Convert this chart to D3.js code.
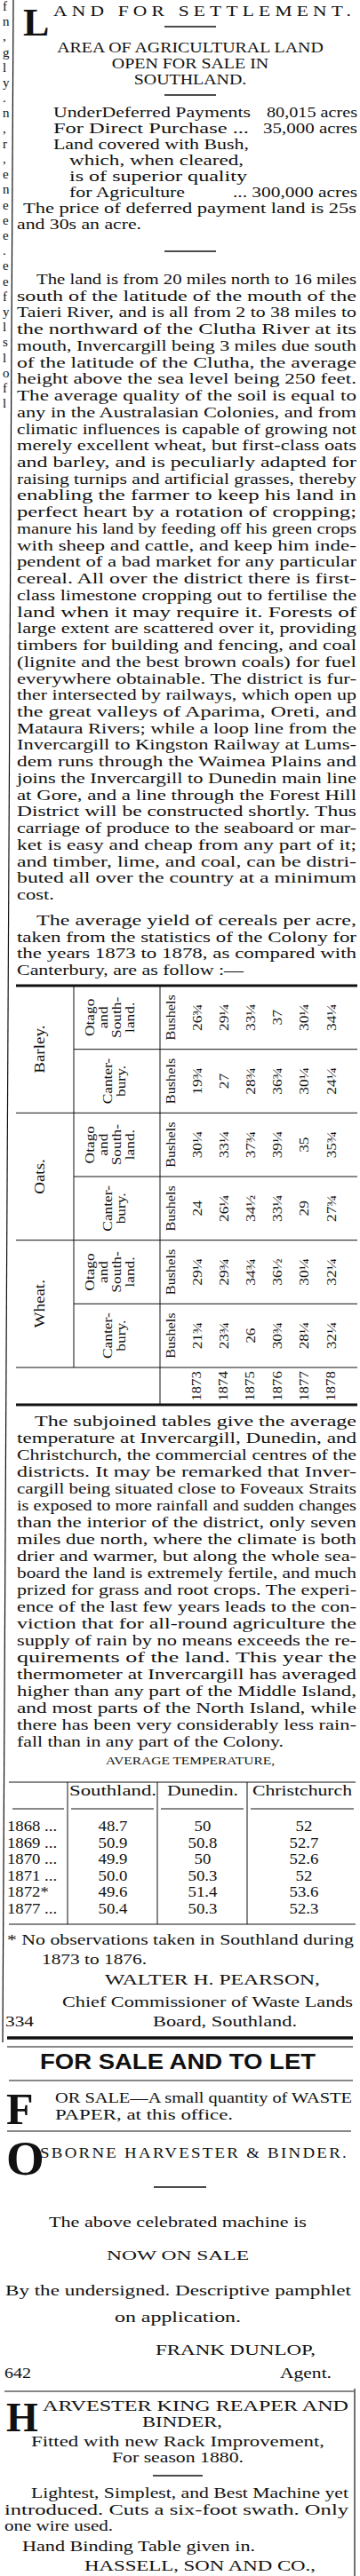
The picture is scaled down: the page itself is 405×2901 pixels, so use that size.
<!DOCTYPE html>
<html><head><meta charset="utf-8">
<script src="https://cdn.jsdelivr.net/npm/d3@7"></script>
<style>body{margin:0;background:#fff}svg{display:block}text{font-family:"Liberation Serif","DejaVu Serif",serif;fill:#111}</style>
</head><body>
<script>
// ---------- data ----------
const yieldYears = ["1873","1874","1875","1876","1877","1878"];
const crops = ["Barley.","Oats.","Wheat."];
const barleyOtago = ["26¾","29¼","33¼","37","30¼","34¼"];
const barleyCant  = ["19¾","27","28¾","36¾","30¼","24¼"];
const oatsOtago   = ["30¼","33¼","37¾","39¼","35","35¾"];
const oatsCant    = ["24","26¼","34½","33¼","29","27¾"];
const wheatOtago  = ["29¼","29¾","34¾","36½","30¼","32¼"];
const wheatCant   = ["21¾","23¾","26","30¾","28¼","32¼"];
const tempYears = ["1868 ...","1869 ...","1870 ...","1871 ...","1872*","1877 ..."];
const tempCols = ["Southland.","Dunedin.","Christchurch"];
const southland = ["48.7","50.9","49.9","50.0","49.6","50.4"];
const dunedin = ["50","50.8","50","50.3","51.4","50.3"];
const christchurch = ["52","52.7","52.6","52","53.6","52.3"];

const para1 = ["The land is from 20 miles north to 16 miles","south of the latitude of the mouth of the","Taieri River, and is all from 2 to 38 miles to","the northward of the Clutha River at its","mouth, Invercargill being 3 miles due south","of the latitude of the Clutha, the average","height above the sea level being 250 feet.","The average quality of the soil is equal to","any in the Australasian Colonies, and from","climatic influences is capable of growing not","merely excellent wheat, but first-class oats","and barley, and is peculiarly adapted for","raising turnips and artificial grasses, thereby","enabling the farmer to keep his land in","perfect heart by a rotation of cropping;","manure his land by feeding off his green crops","with sheep and cattle, and keep him inde-","pendent of a bad market for any particular","cereal. All over the district there is first-","class limestone cropping out to fertilise the","land when it may require it. Forests of","large extent are scattered over it, providing","timbers for building and fencing, and coal","(lignite and the best brown coals) for fuel","everywhere obtainable. The district is fur-","ther intersected by railways, which open up","the great valleys of Aparima, Oreti, and","Mataura Rivers; while a loop line from the","Invercargill to Kingston Railway at Lums-","dem runs through the Waimea Plains and","joins the Invercargill to Dunedin main line","at Gore, and a line through the Forest Hill","District will be constructed shortly. Thus","carriage of produce to the seaboard or mar-","ket is easy and cheap from any part of it;","and timber, lime, and coal, can be distri-","buted all over the country at a minimum","cost."];
const para2 = ["The average yield of cereals per acre,","taken from the statistics of the Colony for","the years 1873 to 1878, as compared with","Canterbury, are as follow :—"];
const para3 = ["The subjoined tables give the average","temperature at Invercargill, Dunedin, and","Christchurch, the commercial centres of the","districts. It may be remarked that Inver-","cargill being situated close to Foveaux Straits","is exposed to more rainfall and sudden changes","than the interior of the district, only seven","miles due north, where the climate is both","drier and warmer, but along the whole sea-","board the land is extremely fertile, and much","prized for grass and root crops. The experi-","ence of the last few years leads to the con-","viction that for all-round agriculture the","supply of rain by no means exceeds the re-","quirements of the land. This year the","thermometer at Invercargill has averaged","higher than any part of the Middle Island,","and most parts of the North Island, while","there has been very considerably less rain-","fall than in any part of the Colony."];
const edgeChars = ["f","n",",","g","l","y",".","n",",","r",",","e","n","e","e","e",".","e","e","f","y","l","s","l","o","f","l"];

// ---------- drawing ----------
const W = 405, H = 2901, STRETCH = 1.17;
const svg = d3.select("body").append("svg").attr("width", W).attr("height", H);
const g = svg.append("g");
function T(x, y, s, o = {}) {
  const t = g.append("text").attr("x", x).attr("y", y).text(s)
    .attr("font-size", o.size || 16.5);
  if (o.anchor) t.attr("text-anchor", o.anchor);
  if (o.weight) t.attr("font-weight", o.weight);
  if (o.family) t.style("font-family", o.family);
  if (o.ls) t.attr("letter-spacing", o.ls);
  let len = o.len;
  if (!len && !o.natural) len = t.node().getComputedTextLength() * STRETCH;
  if (len) t.attr("textLength", len).attr("lengthAdjust", "spacingAndGlyphs");
  return t;
}
function L(x1, y1, x2, y2, w = 1) {
  g.append("line").attr("x1", x1).attr("y1", y1).attr("x2", x2).attr("y2", y2)
    .attr("stroke", "#111").attr("stroke-width", w);
}
function para(lines, y0, lh, indent, lastLen, x0 = 19, x1 = 401) {
  const y = d3.scaleLinear().domain([0, 1]).range([y0, y0 + lh]);
  lines.forEach((s, i) => {
    const x = i === 0 ? x0 + indent : x0;
    const last = i === lines.length - 1;
    T(x, y(i), s, last ? (lastLen ? { len: lastLen } : {}) : { len: x1 - x });
  });
}

// column rule (skewed scan)
L(15, 0, 3, 2300, 1.2);
L(399, 2690, 399, 2901, 1.2);
edgeChars.forEach((c, i) => T(3, 12 + i * 17.2, c, { size: 15, natural: true }));

// header
T(26, 40, "L", { size: 44, weight: "bold", natural: true });
T(60, 18, "AND FOR SETTLEMENT.", { size: 16.5, len: 340, ls: 4 });
L(185, 30, 243, 30, 1.5);
T(214, 59, "AREA OF AGRICULTURAL LAND", { size: 17, anchor: "middle" });
T(214, 77, "OPEN FOR SALE IN", { size: 17, anchor: "middle" });
T(214, 95, "SOUTHLAND.", { size: 17, anchor: "middle" });
L(185, 107, 243, 107, 1.5);
T(60, 132, "UnderDeferred Payments", { len: 222 });
T(300, 132, "80,015 acres", { len: 102 });
T(60, 150, "For Direct Purchase     ...", { len: 220 });
T(296, 150, "35,000 acres", { len: 106 });
T(60, 168, "Land covered with Bush,", { len: 220 });
T(78, 186, "which, when cleared,", { len: 196 });
T(78, 204, "is of superior quality", { len: 200 });
T(78, 222, "for Agriculture", { len: 130 });
T(262, 222, "... 300,000 acres", { len: 140 });
T(26, 240, "The price of deferred payment land is 25s", { len: 375 });
T(19, 258, "and 30s an acre.", { len: 140 });
L(185, 283, 243, 283, 1.5);

para(para1, 320, 18.73, 22, 42);
para(para2, 1042, 18.7, 22, 255);

// ---------- yield table ----------
const rowKeys = ["bO","bC","oO","oC","wO","wC"];
const rowData = { bO: barleyOtago, bC: barleyCant, oO: oatsOtago, oC: oatsCant, wO: wheatOtago, wC: wheatCant };
const yRow = d3.scaleBand().domain(rowKeys).range([1110, 1540]);
const xYear = d3.scalePoint().domain(yieldYears).range([221, 372]);
const yrTop = 1540, tabBot = 1582;
L(18, 1110, 402, 1110, 3);
L(18, tabBot, 402, tabBot, 3);
L(83, 1110, 83, 1540, 1);
L(180, 1110, 180, tabBot, 1);
rowKeys.forEach((k, i) => {
  const yb = yRow(k) + yRow.bandwidth();
  if (i % 2 === 0) L(83, yb, 402, yb, 1); else L(18, yb, 402, yb, 1);
});
function R(x, y, s, size = 15, weight) {
  const t = g.append("text").attr("transform", `translate(${x},${y}) rotate(-90)`)
    .attr("text-anchor", "middle").attr("dominant-baseline", "central")
    .attr("font-size", size).text(s);
  if (weight) t.attr("font-weight", weight);
  t.attr("textLength", t.node().getComputedTextLength() * 1.12).attr("lengthAdjust", "spacingAndGlyphs");
}
crops.forEach((c, i) => {
  const yc = yRow(rowKeys[i * 2]) + yRow.bandwidth();
  R(44, yc, c, 17);
});
rowKeys.forEach((k, i) => {
  const yc = yRow(k) + yRow.bandwidth() / 2;
  const lab = i % 2 === 0 ? ["Otago", "and", "South-", "land."] : ["Canter-", "bury."];
  const x0 = i % 2 === 0 ? 100 : 120;
  lab.forEach((s, j) => R(x0 + j * 15, yc, s, 15.5));
  R(192, yc, "Bushels", 14.5);
  rowData[k].forEach((v, j) => R(xYear(yieldYears[j]), yc, v, 15.5));
});
yieldYears.forEach(yr => R(xYear(yr), (yrTop + tabBot) / 2, yr, 15));

para(para3, 1606, 19.0, 20, 300);

// ---------- temperature table ----------
T(214, 1987, "AVERAGE TEMPERATURE,", { size: 12, anchor: "middle", len: 190 });
const xCol = d3.scaleOrdinal().domain(tempCols).range([127, 228, 342]);
const yT = d3.scalePoint().domain(tempYears).range([2062, 2155]);
L(10, 2007, 400, 2007, 1);
L(76, 2007, 76, 2167, 1); L(177, 2007, 177, 2167, 1); L(278, 2007, 278, 2167, 1);
L(14, 2037, 72, 2037, 1); L(80, 2037, 173, 2037, 1); L(181, 2037, 274, 2037, 1); L(282, 2037, 398, 2037, 1);
L(10, 2167, 400, 2167, 1);
T(127, 2022, "Southland.", { anchor: "middle", size: 16, len: 98 });
T(228, 2022, "Dunedin.", { anchor: "middle", size: 16, len: 80 });
T(340, 2022, "Christchurch", { anchor: "middle", size: 16, len: 112 });
const cols = [southland, dunedin, christchurch];
tempYears.forEach((yr, i) => {
  T(8, yT(yr), yr, { size: 16 });
  cols.forEach((arr, j) => T(xCol(tempCols[j]), yT(yr), arr[i], { anchor: "middle", size: 16 }));
});

// ---------- footer ----------
T(8, 2190, "* No observations taken in Southland during", { len: 390 });
T(47, 2212, "1873 to 1876.", { len: 118 });
T(118, 2235, "WALTER H. PEARSON,", { len: 242 });
T(70, 2260, "Chief Commissioner of Waste Lands", { len: 327 });
T(6, 2282, "334", { len: 32 });
T(172, 2282, "Board, Southland.", { len: 162 });
L(8, 2295, 397, 2295, 3.5);
L(8, 2305, 397, 2305, 1);
T(200, 2330, "FOR SALE AND TO LET", { size: 23, anchor: "middle", weight: "bold", family: "Liberation Sans, Arial, sans-serif", len: 310 });
L(10, 2343, 397, 2343, 1);
T(7, 2392, "F", { size: 50, weight: "bold", natural: true });
T(62, 2368, "OR SALE—A small quantity of WASTE", { len: 334 });
T(62, 2387, "PAPER, at this office.", { len: 200 });
L(8, 2400, 395, 2400, 1);
T(7, 2449, "O", { size: 55, weight: "bold", natural: true });
T(45, 2430, "SBORNE HARVESTER & BINDER.", { len: 347, ls: 2 });
L(173, 2463, 232, 2463, 1.5);
T(200, 2508, "The above celebrated machine is", { anchor: "middle", len: 290 });
T(200, 2545, "NOW ON SALE", { anchor: "middle", size: 15.5, len: 160 });
T(6, 2585, "By the undersigned.  Descriptive pamphlet", { len: 389 });
T(200, 2615, "on application.", { anchor: "middle", len: 142 });
T(175, 2652, "FRANK DUNLOP,", { len: 180 });
T(5, 2678, "642", { len: 30 });
T(315, 2678, "Agent.", { len: 58 });
L(5, 2693, 398, 2693, 1);
T(7, 2738, "H", { size: 46, weight: "bold", natural: true });
T(48, 2715, "ARVESTER KING REAPER AND", { len: 344 });
T(205, 2733, "BINDER,", { anchor: "middle", len: 90 });
T(200, 2755, "Fitted with new Rack Improvement,", { anchor: "middle", len: 330 });
T(200, 2773, "For season 1880.", { anchor: "middle", len: 148 });
L(172, 2788, 228, 2788, 1.5);
T(35, 2813, "Lightest, Simplest, and Best Machine yet", { len: 357 });
T(5, 2832, "introduced.  Cuts a six-foot swath.  Only", { len: 387 });
T(5, 2850, "one wire used.", { len: 122 });
T(25, 2873, "Hand Binding Table given in.", { len: 262 });
T(95, 2895, "HASSELL, SON AND CO.,", { len: 260 });
</script>
</body></html>
